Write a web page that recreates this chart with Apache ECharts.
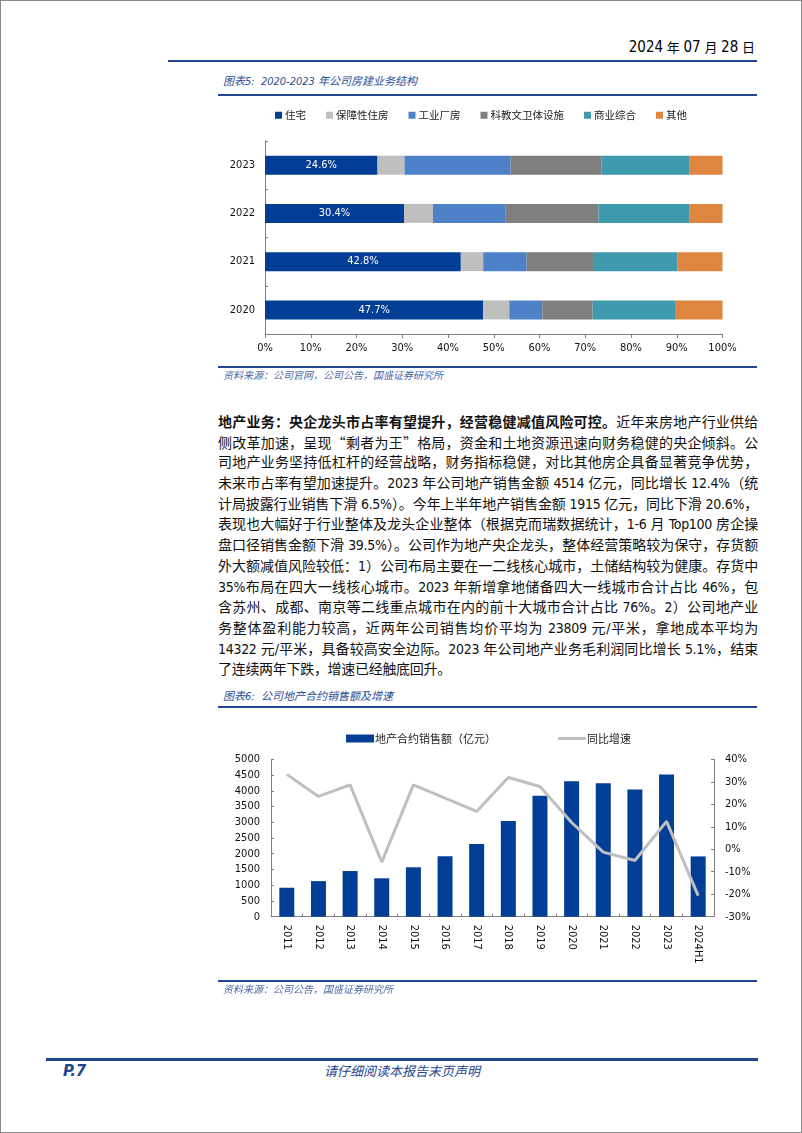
<!DOCTYPE html>
<html>
<head>
<meta charset="utf-8">
<script src="https://cdn.jsdelivr.net/npm/echarts@6/dist/echarts.min.js"></script>
<style>
  html, body { margin: 0; padding: 0; background: #fff; }
  #page { position: relative; width: 802px; height: 1133px; box-sizing: border-box; border: 1px solid #8a8a8a; overflow: hidden; font-family: "Noto Sans CJK SC", sans-serif; }
  .abs { position: absolute; }
  .hline { position: absolute; background: #23478f; }
  .ctitle { position: absolute; left: 222px; font-size: 11px; font-style: italic; color: #2a4f96; white-space: nowrap; line-height: 14px; font-family: "DejaVu Sans Condensed", "Noto Sans CJK SC", sans-serif; }
  .src { position: absolute; left: 222px; font-size: 10px; font-style: italic; color: #4a68a8; white-space: nowrap; line-height: 12px; }
  #para { position: absolute; left: 217px; top: 410px; width: 540px; font-size: 14px; color: #111; font-family: "DejaVu Sans Condensed", "Noto Sans CJK SC", sans-serif; letter-spacing: -0.3px; }
  #para div { white-space: nowrap; text-align: justify; text-align-last: justify; height: 20.7px; line-height: 20.7px; overflow: visible; }
  #para div.last { text-align-last: left; }
  .cjk { font-family: "Noto Sans CJK SC", sans-serif; }
</style>
</head>
<body>
<div id="page">
  <div class="abs" style="right:46px; top:36px; font-size:15px; color:#000; white-space:nowrap; font-family:'DejaVu Sans Condensed','Noto Sans CJK SC',sans-serif; line-height:20px;">2024<span style="font-size:13px"> 年 </span>07<span style="font-size:13px"> 月 </span>28<span style="font-size:13px"> 日</span></div>
  <div class="hline" style="left:167px; top:59px; width:589px; height:2px;"></div>

  <div class="ctitle" style="top:74px;">图表5:&nbsp; 2020-2023 年公司房建业务结构</div>
  <div class="hline" style="left:217px; top:93px; width:539px; height:2px;"></div>
  <div id="c1" class="abs" style="left:200px; top:98px; width:560px; height:265px;"></div>
  <div class="hline" style="left:217px; top:365px; width:539px; height:2px;"></div>
  <div class="src" style="top:368px;">资料来源：公司官网，公司公告，国盛证券研究所</div>

  <div id="para">
    <div><b class="cjk">地产业务：央企龙头市占率有望提升，经营稳健减值风险可控。</b>近年来房地产行业供给</div>
    <div>侧改革加速，呈现<span class="cjk">“</span>剩者为王<span class="cjk">”</span>格局，资金和土地资源迅速向财务稳健的央企倾斜。公</div>
    <div>司地产业务坚持低杠杆的经营战略，财务指标稳健，对比其他房企具备显著竞争优势，</div>
    <div>未来市占率有望加速提升。2023 年公司地产销售金额 4514 亿元，同比增长 12.4%（统</div>
    <div>计局披露行业销售下滑 6.5%）。今年上半年地产销售金额 1915 亿元，同比下滑 20.6%，</div>
    <div>表现也大幅好于行业整体及龙头企业整体（根据克而瑞数据统计，1-6 月 Top100 房企操</div>
    <div>盘口径销售金额下滑 39.5%）。公司作为地产央企龙头，整体经营策略较为保守，存货额</div>
    <div>外大额减值风险较低：1）公司布局主要在一二线核心城市，土储结构较为健康。存货中</div>
    <div>35%布局在四大一线核心城市。2023 年新增拿地储备四大一线城市合计占比 46%，包</div>
    <div>含苏州、成都、南京等二线重点城市在内的前十大城市合计占比 76%。2）公司地产业</div>
    <div>务整体盈利能力较高，近两年公司销售均价平均为 23809 元/平米，拿地成本平均为</div>
    <div>14322 元/平米，具备较高安全边际。2023 年公司地产业务毛利润同比增长 5.1%，结束</div>
    <div class="last">了连续两年下跌，增速已经触底回升。</div>
  </div>

  <div class="ctitle" style="top:689px;">图表6:&nbsp; 公司地产合约销售额及增速</div>
  <div class="hline" style="left:217px; top:705px; width:539px; height:2px;"></div>
  <div id="c2" class="abs" style="left:200px; top:715px; width:560px; height:265px;"></div>
  <div class="hline" style="left:217px; top:979px; width:539px; height:2px;"></div>
  <div class="src" style="top:982px;">资料来源：公司公告，国盛证券研究所</div>

  <div class="hline" style="left:45px; top:1057px; width:712px; height:3px;"></div>
  <div class="abs" style="left:62px; top:1060px; font-size:15px; font-weight:bold; font-style:italic; color:#23478f; font-family:'DejaVu Sans','Noto Sans CJK SC',sans-serif; line-height:20px;">P.7</div>
  <div class="abs" style="left:320px; top:1061px; width:162px; text-align:center; font-size:13px; font-style:italic; color:#23478f; line-height:18px; white-space:nowrap;">请仔细阅读本报告末页声明</div>
</div>

<script>
// ---------- Chart 5 data ----------
var years5 = ['2020', '2021', '2022', '2023'];
var zhuzhai   = [47.7, 42.8, 30.4, 24.6];   // 住宅
var baozhang  = [5.7, 4.9, 6.3, 5.9];       // 保障性住房
var gongye    = [7.2, 9.5, 15.8, 23.2];     // 工业厂房
var kejiao    = [11.0, 14.5, 20.4, 19.8];   // 科教文卫体设施
var shangye   = [18.2, 18.4, 19.8, 19.2];   // 商业综合
var qita      = [10.2, 9.9, 7.3, 7.3];      // 其他
var pctTicks5 = [0, 10, 20, 30, 40, 50, 60, 70, 80, 90, 100];

// ---------- Chart 6 data ----------
var years6 = ['2011', '2012', '2013', '2014', '2015', '2016', '2017', '2018', '2019', '2020', '2021', '2022', '2023', '2024H1'];
var sales  = [920, 1130, 1450, 1220, 1570, 1920, 2310, 3040, 3840, 4300, 4240, 4040, 4514, 1915];
var growth = [33.3, 23.5, 28.6, -5.7, 28.6, 22.7, 16.8, 31.9, 27.9, 11.9, -1.3, -5.0, 12.4, -20.6];

var numFont = 'DejaVu Sans Condensed';
var cjkFont = 'Noto Sans CJK SC';

var c1 = echarts.init(document.getElementById('c1'));
function seg(name, data, color, label) {
  return {
    name: name, type: 'bar', stack: 'total', data: data, barWidth: 19,
    itemStyle: { color: color },
    label: label ? { show: true, position: 'inside', color: '#fff', fontSize: 11, fontFamily: numFont, formatter: function (p) { return p.value.toFixed(1) + '%'; } } : { show: false },
    emphasis: { disabled: true }
  };
}
c1.setOption({
  animation: false,
  legend: {
    top: 6, left: 'center', itemWidth: 7, itemHeight: 7, itemGap: 20,
    icon: 'rect',
    textStyle: { fontSize: 10.5, color: '#222', fontFamily: cjkFont, padding: [0, 0, 0, -2] },
    data: ['住宅', '保障性住房', '工业厂房', '科教文卫体设施', '商业综合', '其他']
  },
  grid: { left: 64, right: 38.5, top: 42, bottom: 30 },
  xAxis: {
    type: 'value', min: 0, max: 100, interval: 10,
    axisLine: { show: true, lineStyle: { color: '#808080', width: 1 } },
    axisTick: { show: true, length: 4, lineStyle: { color: '#808080' } },
    splitLine: { show: false },
    axisLabel: { fontSize: 11, color: '#111', fontFamily: numFont, margin: 9,
      formatter: function (v) { return pctTicks5.indexOf(v) >= 0 ? v + '%' : ''; } }
  },
  yAxis: {
    type: 'category', data: years5,
    axisLine: { show: true, lineStyle: { color: '#808080', width: 1 } },
    axisTick: { show: true, inside: true, length: 3, lineStyle: { color: '#808080' } },
    axisLabel: { fontSize: 11, color: '#111', fontFamily: numFont, margin: 10 }
  },
  series: [
    seg('住宅', zhuzhai, '#033e96', true),
    seg('保障性住房', baozhang, '#bfbfbf', false),
    seg('工业厂房', gongye, '#4f81c8', false),
    seg('科教文卫体设施', kejiao, '#7f7f7f', false),
    seg('商业综合', shangye, '#3f9aae', false),
    seg('其他', qita, '#de8540', false)
  ]
});

var c2 = echarts.init(document.getElementById('c2'));
c2.setOption({
  animation: false,
  legend: {
    top: 12, left: 140, itemWidth: 28, itemHeight: 8, itemGap: 62, symbolKeepAspect: true,
    textStyle: { fontSize: 11, color: '#222', fontFamily: cjkFont, padding: [0, 0, 0, -4] },
    data: [
      { name: '地产合约销售额（亿元）', icon: 'rect' },
      { name: '同比增速', icon: 'path://M0,0 L28,0 L28,3 L0,3 Z', itemStyle: { color: '#bfbfbf' } }
    ]
  },
  grid: { left: 70, right: 47, top: 43.3, bottom: 64.3 },
  xAxis: {
    type: 'category', data: years6,
    axisLine: { show: true, lineStyle: { color: '#808080', width: 1 } },
    axisTick: { show: true, inside: true, length: 3, lineStyle: { color: '#808080' } },
    axisLabel: { rotate: -90, fontSize: 11, color: '#111', fontFamily: numFont, margin: 8, interval: 0 }
  },
  yAxis: [
    {
      type: 'value', min: 0, max: 5000, interval: 500,
      axisLine: { show: true, lineStyle: { color: '#808080', width: 1 } },
      axisTick: { show: true, inside: true, length: 3, lineStyle: { color: '#808080' } },
      splitLine: { show: false },
      axisLabel: { fontSize: 11, color: '#111', fontFamily: numFont, margin: 11, formatter: function (v) { return String(v); } }
    },
    {
      type: 'value', min: -30, max: 40, interval: 10,
      axisLine: { show: true, lineStyle: { color: '#808080', width: 1 } },
      axisTick: { show: true, inside: true, length: 3, lineStyle: { color: '#808080' } },
      splitLine: { show: false },
      axisLabel: { fontSize: 11, color: '#111', fontFamily: numFont, margin: 11, formatter: '{value}%' }
    }
  ],
  series: [
    { name: '地产合约销售额（亿元）', type: 'bar', data: sales, barWidth: 15, itemStyle: { color: '#033e96' }, emphasis: { disabled: true } },
    { name: '同比增速', type: 'line', yAxisIndex: 1, data: growth, symbol: 'none', z: 5,
      lineStyle: { color: '#bfbfbf', width: 3 }, itemStyle: { color: '#bfbfbf' }, emphasis: { disabled: true } }
  ]
});
</script>
</body>
</html>
